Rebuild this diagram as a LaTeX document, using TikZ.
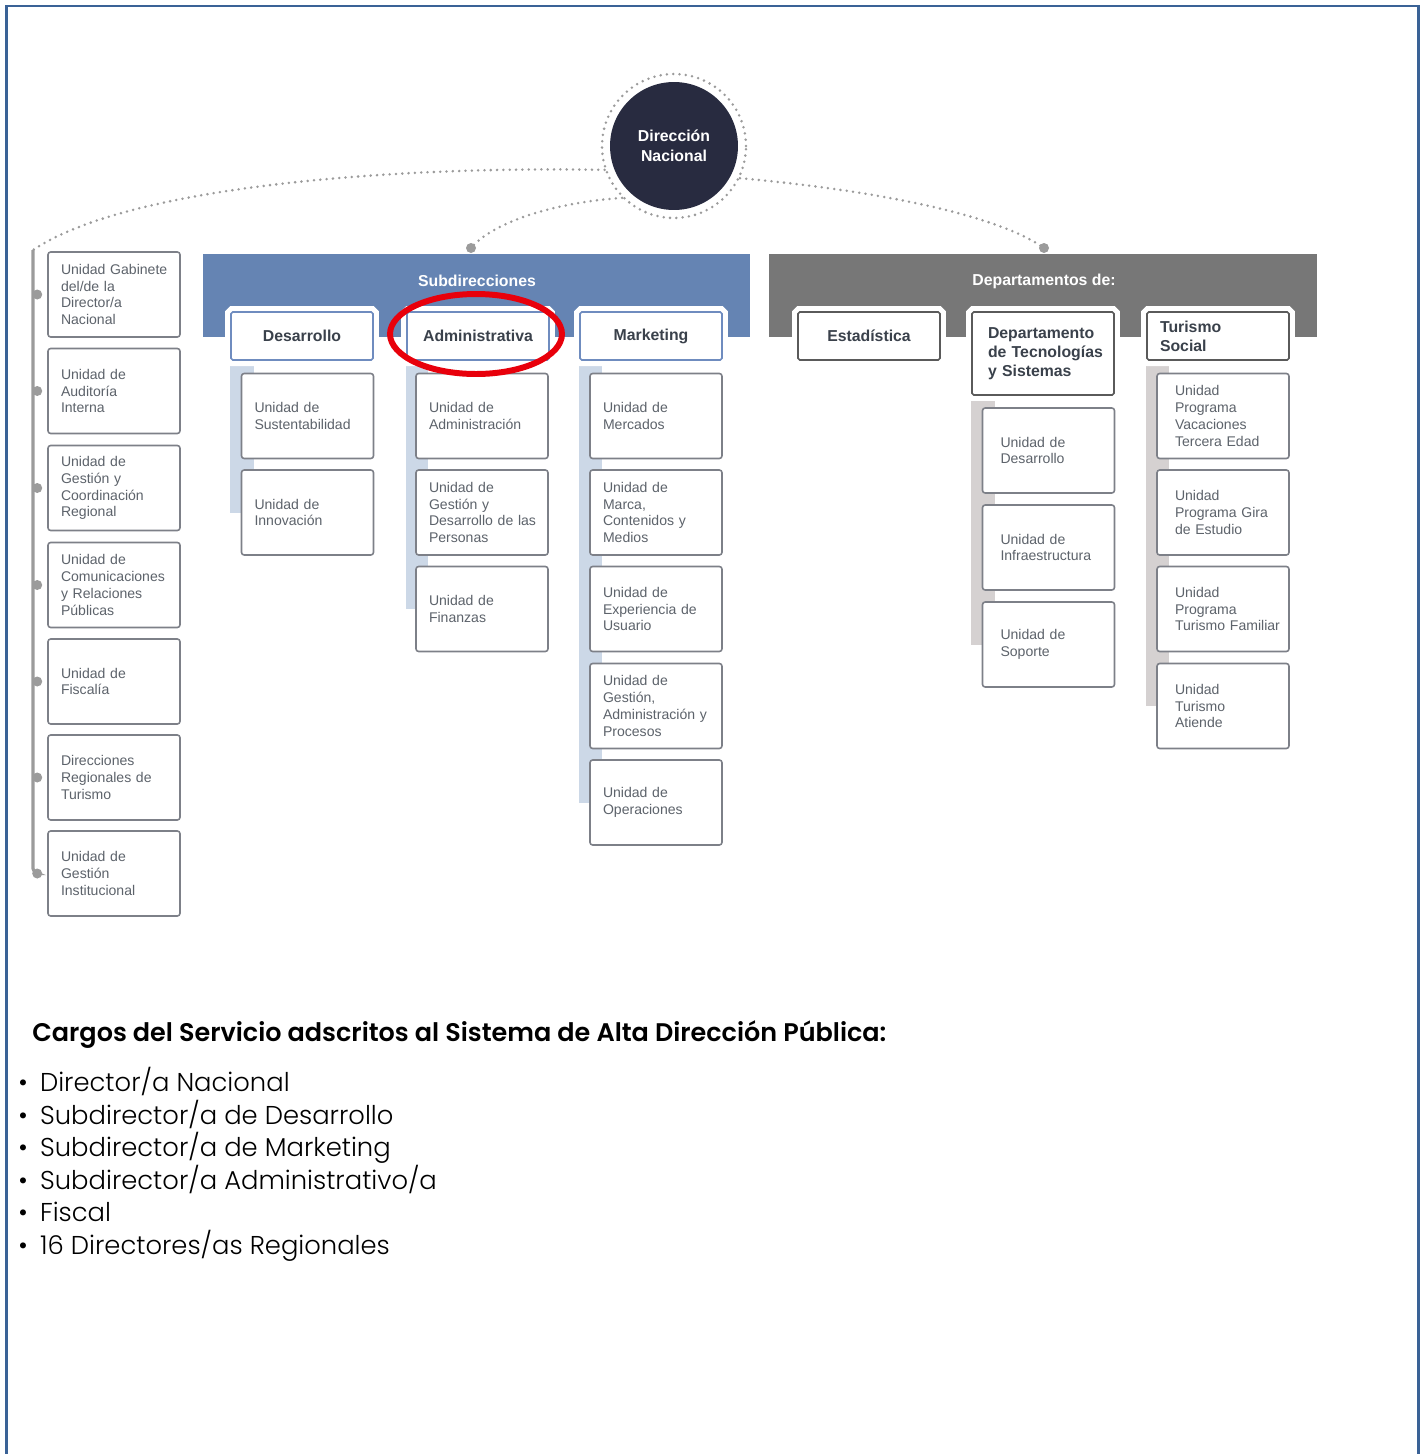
\documentclass[tikz,border=0pt]{standalone}
\usepackage{fontspec}
\setmainfont{Liberation Sans}
\newfontfamily\gothic{Poppins Light}[BoldFont={Poppins SemiBold}]
\usetikzlibrary{backgrounds}
\lefthyphenmin=64

\definecolor{frameblue}{HTML}{3A6296}
\definecolor{navy}{HTML}{282B40}
\definecolor{subblue}{HTML}{6584B3}
\definecolor{deptgray}{HTML}{777777}
\definecolor{hdblue}{HTML}{6F8CBF}
\definecolor{hdgray}{HTML}{5A5A5A}
\definecolor{unitline}{HTML}{7D8088}
\definecolor{unittext}{HTML}{5D636B}
\definecolor{headtext}{HTML}{3A414B}
\definecolor{barblue}{HTML}{CCD8E7}
\definecolor{bargray}{HTML}{D5D1D1}
\definecolor{dotgray}{HTML}{9B9B9B}
\definecolor{ringred}{HTML}{E8000B}

\begin{document}
\begin{tikzpicture}[x=0.02cm, y=-0.02cm,
	unitbox/.style={draw=unitline, line width=0.9pt, rounded corners=1.5pt, fill=white, text=unittext,
		text width=2.12cm, inner xsep=0.26cm, inner ysep=0pt, minimum height=1.7cm, align=left,
		font=\fontsize{8}{9.6}\selectfont},
	deptunit/.style={unitbox, text width=1.92cm, inner xsep=0.36cm},
	headbox/.style={draw=#1, line width=0.9pt, rounded corners=1pt, fill=white, text=headtext,
		minimum width=2.84cm, minimum height=0.96cm, inner sep=0pt,
		font=\bfseries\fontsize{9}{10.8}\selectfont, preaction={draw=white, line width=0.24cm}},
	bannertext/.style={text=white, font=\bfseries\fontsize{9}{10.8}\selectfont},
	dotline/.style={draw=dotgray, line width=1.6pt, line cap=round, dash pattern=on 0pt off 3.6pt},
	treeline/.style={draw=dotgray, line width=1.8pt}]
	\useasboundingbox (0,0) rectangle (1422,1454);
	
	% frame
	\draw[frameblue, line width=1.7pt] (6.3,1456) -- (6.3,6) -- (1418.5,6) -- (1418.5,1456);
	
	% direccion nacional
	\node[circle, fill=navy, minimum size=2.56cm, text=white, align=center,
		font=\bfseries\fontsize{9}{11.3}\selectfont] (dn) at (674,146) {Dirección\\Nacional};
	\node[circle, dotline, minimum size=2.88cm] (ring) at (dn) {};
	
	\coordinate (lefttop) at (33,250);
	\coordinate (subtop) at (471,248);
	\coordinate (deptop) at (1044,248);
	\draw[dotline] (ring.199) .. controls (400,166) and (130,185) .. (lefttop);
	\draw[dotline] (ring.225) .. controls (560,202) and (495,220) .. (subtop);
	\draw[dotline] (ring.334) .. controls (850,188) and (990,210) .. (deptop);
	\fill[dotgray] (subtop) circle (0.1cm);
	\fill[dotgray] (deptop) circle (0.1cm);
	
	% banners
	\fill[subblue] (203,254) rectangle (750,337);
	\node[bannertext] (subt) at (477,281) {Subdirecciones};
	\fill[deptgray] (769,254) rectangle (1317,337);
	\node[bannertext] (dept) at (1044,281) {Departamentos de:};
	
	% cabeceras
	\node[headbox=hdblue] (hdes) at (302,336) {Desarrollo};
	\node[headbox=hdblue] (hadm) at (478,336) {Administrativa};
	\node[headbox=hdblue] (hmkt) at (651,336) {Marketing};
	\node[headbox=hdgray] (hest) at (869,336) {Estadística};
	\node[headbox=hdgray, minimum height=1.66cm, text width=2.2cm, inner xsep=0.32cm, align=left]
		(htec) at (1043,353.5) {Departamento\\de~Tecnologías\\y~Sistemas};
	\node[headbox=hdgray, text width=2.32cm, inner xsep=0.26cm, align=left]
		(htur) at (1218,336) {Turismo\\Social};
	
	% unidades directas
	\node[unitbox] (ul1) at (114,294.5) {Unidad~Gabinete\\del/de~la\\Director/a\\Nacional};
	\node[unitbox] (ul2) at (114,391) {Unidad~de\\Auditoría\\Interna};
	\node[unitbox] (ul3) at (114,488) {Unidad~de\\Gestión~y\\Coordinación\\Regional};
	\node[unitbox] (ul4) at (114,585) {Unidad~de\\Comunicaciones\\y~Relaciones\\Públicas};
	\node[unitbox] (ul5) at (114,681.5) {Unidad~de\\Fiscalía};
	\node[unitbox] (ul6) at (114,777.5) {Direcciones\\Regionales~de\\Turismo};
	\node[unitbox] (ul7) at (114,873.5) {Unidad~de\\Gestión\\Institucional};
	
	\draw[treeline, rounded corners=0.1cm] (lefttop) -- (lefttop |- ul7.west) -- ([xshift=-0.2cm]ul7.west);
	\fill[dotgray] ([xshift=-0.2cm]ul1.west) circle (0.1cm);
	\fill[dotgray] ([xshift=-0.2cm]ul2.west) circle (0.1cm);
	\fill[dotgray] ([xshift=-0.2cm]ul3.west) circle (0.1cm);
	\fill[dotgray] ([xshift=-0.2cm]ul4.west) circle (0.1cm);
	\fill[dotgray] ([xshift=-0.2cm]ul5.west) circle (0.1cm);
	\fill[dotgray] ([xshift=-0.2cm]ul6.west) circle (0.1cm);
	\fill[dotgray] ([xshift=-0.2cm]ul7.west) circle (0.1cm);
	
	% subdirecciones
	\node[unitbox] (ud1) at (307.5,416) {Unidad~de\\Sustentabilidad};
	\node[unitbox] (ud2) at (307.5,512.5) {Unidad~de\\Innovación};
	
	\node[unitbox] (ua1) at (482,416) {Unidad~de\\Administración};
	\node[unitbox] (ua2) at (482,512.5) {Unidad~de\\Gestión~y\\Desarrollo~de~las\\Personas};
	\node[unitbox] (ua3) at (482,609) {Unidad~de\\Finanzas};
	
	\node[unitbox] (um1) at (656,416) {Unidad~de\\Mercados};
	\node[unitbox] (um2) at (656,512.5) {Unidad~de\\Marca,\\Contenidos~y\\Medios};
	\node[unitbox] (um3) at (656,609) {Unidad~de\\Experiencia~de\\Usuario};
	\node[unitbox] (um4) at (656,706) {Unidad~de\\Gestión,\\Administración~y\\Procesos};
	\node[unitbox] (um5) at (656,802.5) {Unidad~de\\Operaciones};
	
	% departamentos
	\node[deptunit] (ut1) at (1048.5,450.5) {Unidad~de\\Desarrollo};
	\node[deptunit] (ut2) at (1048.5,547.5) {Unidad~de\\Infraestructura};
	\node[deptunit] (ut3) at (1048.5,644.5) {Unidad~de\\Soporte};
	
	\node[deptunit] (us1) at (1223,416) {Unidad\\Programa\\Vacaciones\\Tercera~Edad};
	\node[deptunit] (us2) at (1223,512.5) {Unidad\\Programa~Gira\\de~Estudio};
	\node[deptunit] (us3) at (1223,609) {Unidad\\Programa\\Turismo~Familiar};
	\node[deptunit] (us4) at (1223,706) {Unidad\\Turismo\\Atiende};
	
	\begin{pgfonlayer}{background}
		\fill[barblue] (hdes.south west) rectangle ([xshift=0.26cm]ud2.west);
		\fill[barblue] (hadm.south west) rectangle ([xshift=0.26cm]ua3.west);
		\fill[barblue] (hmkt.south west) rectangle ([xshift=0.26cm]um5.west);
		\fill[bargray] (htec.south west) rectangle ([xshift=0.26cm]ut3.west);
		\fill[bargray] (htur.south west) rectangle ([xshift=0.26cm]us4.west);
	\end{pgfonlayer}
	
	\draw[ringred, line width=3.4pt] ([shift={(-0.04cm,0.04cm)}]hadm.center) ellipse [x radius=1.72cm, y radius=0.8cm];
	
	% cargos ADP
	\node[anchor=base west, inner sep=0pt, font=\gothic\bfseries\fontsize{14.5}{17}\selectfont]
		(cargos) at (32,1041) {Cargos del Servicio adscritos al Sistema de Alta Dirección Pública:};
	\node[anchor=north west, inner sep=0pt, align=left, font=\gothic\fontsize{14.7}{18.5}\selectfont]
		(lista) at (18,1067) {\textbullet\hspace{7pt}Director/a Nacional\\
		\textbullet\hspace{7pt}Subdirector/a de Desarrollo\\
		\textbullet\hspace{7pt}Subdirector/a de Marketing\\
		\textbullet\hspace{7pt}Subdirector/a Administrativo/a\\
		\textbullet\hspace{7pt}Fiscal\\
		\textbullet\hspace{7pt}16 Directores/as Regionales};
\end{tikzpicture}
\end{document}
